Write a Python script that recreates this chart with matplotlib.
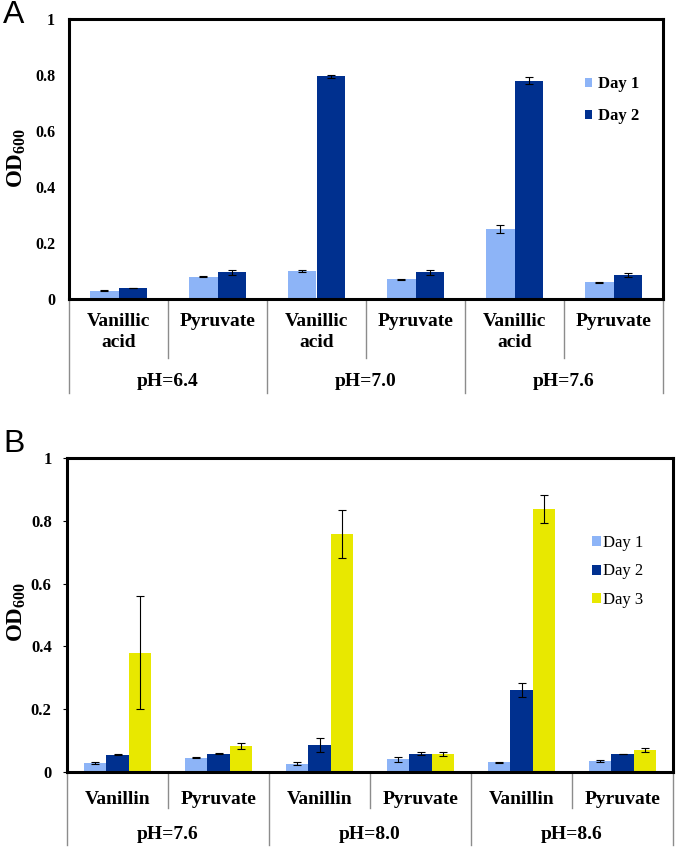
import matplotlib
matplotlib.use("Agg")
import matplotlib.pyplot as plt
import matplotlib.transforms as mtransforms
import numpy as np

plt.rcParams['font.family'] = ['Liberation Serif', 'DejaVu Serif']
plt.rcParams['mathtext.fontset'] = 'custom'
plt.rcParams['mathtext.rm'] = 'Liberation Serif'
plt.rcParams['mathtext.bf'] = 'Liberation Serif:bold'

# panel A data
a_substrates = ["Vanillic\nacid", "Pyruvate"] * 3
a_groups = ["pH=6.4", "pH=7.0", "pH=7.6"]
a_day1 = [0.03, 0.08, 0.10, 0.07, 0.25, 0.06]
a_day1_err = [0.002, 0.002, 0.002, 0.002, 0.013, 0.002]
a_day2 = [0.04, 0.095, 0.795, 0.095, 0.78, 0.085]
a_day2_err = [0.001, 0.009, 0.006, 0.008, 0.012, 0.008]

# panel B data
b_substrates = ["Vanillin", "Pyruvate"] * 3
b_groups = ["pH=7.6", "pH=8.0", "pH=8.6"]
b_day1 = [0.029, 0.045, 0.027, 0.04, 0.031, 0.035]
b_day1_err = [0.002, 0.002, 0.004, 0.008, 0.001, 0.002]
b_day2 = [0.055, 0.058, 0.086, 0.058, 0.262, 0.057]
b_day2_err = [0.002, 0.002, 0.022, 0.005, 0.022, 0.001]
b_day3 = [0.38, 0.082, 0.757, 0.058, 0.838, 0.07]
b_day3_err = [0.18, 0.01, 0.077, 0.007, 0.045, 0.006]

c1 = "#8db4f7"
c2 = "#00308f"
c3 = "#e8e800"

fig = plt.figure(figsize=(6.77, 8.47), dpi=100)
axA = fig.add_axes([69 / 677, 1 - 299 / 847, 594 / 677, 280 / 847])
axB = fig.add_axes([67 / 677, 1 - 772 / 847, 606 / 677, 314 / 847])


def style_axes(ax, ticklen, pad, fsize):
    ax.set_ylim(0, 1)
    ax.set_xlim(-0.5, 5.5)
    ax.set_yticks([0, 0.2, 0.4, 0.6, 0.8, 1.0])
    ax.set_yticklabels(["0", "0.2", "0.4", "0.6", "0.8", "1"],
                       fontweight='bold', fontsize=fsize)
    ax.tick_params(axis='y', length=ticklen, width=0.8, pad=pad)
    ax.set_xticks([])
    for s in ax.spines.values():
        s.set_linewidth(2.2)
        s.set_color("black")


def category_axis(ax, substrates, groups, inner_y, outer_y, lab_y, grp_y):
    trans = mtransforms.blended_transform_factory(ax.transData, ax.transAxes)
    for xb in [0.5, 2.5, 4.5]:
        ax.plot([xb, xb], [0, inner_y], color="#8c8c8c", lw=1.0,
                transform=trans, clip_on=False)
    for xb in [-0.5, 1.5, 3.5, 5.5]:
        ax.plot([xb, xb], [0, outer_y], color="#8c8c8c", lw=1.0,
                transform=trans, clip_on=False)
    for i, s in enumerate(substrates):
        ax.text(i, lab_y, s, transform=trans, ha='center', va='top',
                fontsize=14, fontweight='bold', linespacing=1.3)
    for g, name in enumerate(groups):
        ax.text(2 * g + 0.5, grp_y, name, transform=trans, ha='center',
                va='center', fontsize=14, fontweight='bold')


ekw = dict(elinewidth=0.8, ecolor='black', capthick=0.8)

# panel A
x = np.arange(len(a_day1))
w = 0.285
axA.bar(x - w / 2, a_day1, w, color=c1, yerr=a_day1_err, capsize=3,
        error_kw=ekw, label="Day 1")
axA.bar(x + w / 2, a_day2, w, color=c2, yerr=a_day2_err, capsize=3,
        error_kw=ekw, label="Day 2")
style_axes(axA, 0, 10, 11.5)
category_axis(axA, a_substrates, a_groups, -0.21, -0.336, -0.05, -0.295)
axA.legend(loc='upper left', bbox_to_anchor=(0.868, 0.796), frameon=False,
           prop={'weight': 'bold', 'size': 12}, handlelength=0.45,
           handleheight=0.45, handletextpad=0.35, labelspacing=0.97,
           borderaxespad=0, borderpad=0)

# panel B
wb = 0.223
axB.bar(x - wb, b_day1, wb, color=c1, yerr=b_day1_err, capsize=3,
        error_kw=ekw, label="Day 1")
axB.bar(x, b_day2, wb, color=c2, yerr=b_day2_err, capsize=3,
        error_kw=ekw, label="Day 2")
axB.bar(x + wb, b_day3, wb, color=c3, yerr=b_day3_err, capsize=3,
        error_kw=ekw, label="Day 3")
style_axes(axB, 3, 8, 12)
category_axis(axB, b_substrates, b_groups, -0.115, -0.232, -0.06, -0.2)
axB.legend(loc='upper left', bbox_to_anchor=(0.866, 0.755), frameon=False,
           prop={'size': 12}, handlelength=0.55, handleheight=0.55,
           handletextpad=0.15, labelspacing=0.75, borderaxespad=0,
           borderpad=0)

# y labels and panel letters
fig.text(17 / 677, 1 - 158 / 847, r'$\mathbf{OD_{600}}$', rotation=90,
         ha='center', va='center', fontsize=16.5)
fig.text(17 / 677, 1 - 612 / 847, r'$\mathbf{OD_{600}}$', rotation=90,
         ha='center', va='center', fontsize=16.5)
fig.text(3 / 677, 1 - 15 / 847, "A", family='Liberation Sans', fontsize=23,
         ha='left', va='center')
fig.text(3 / 677, 1 - 444 / 847, "B", family='Liberation Sans', fontsize=23,
         ha='left', va='center')

fig.savefig("out.png", dpi=100)
